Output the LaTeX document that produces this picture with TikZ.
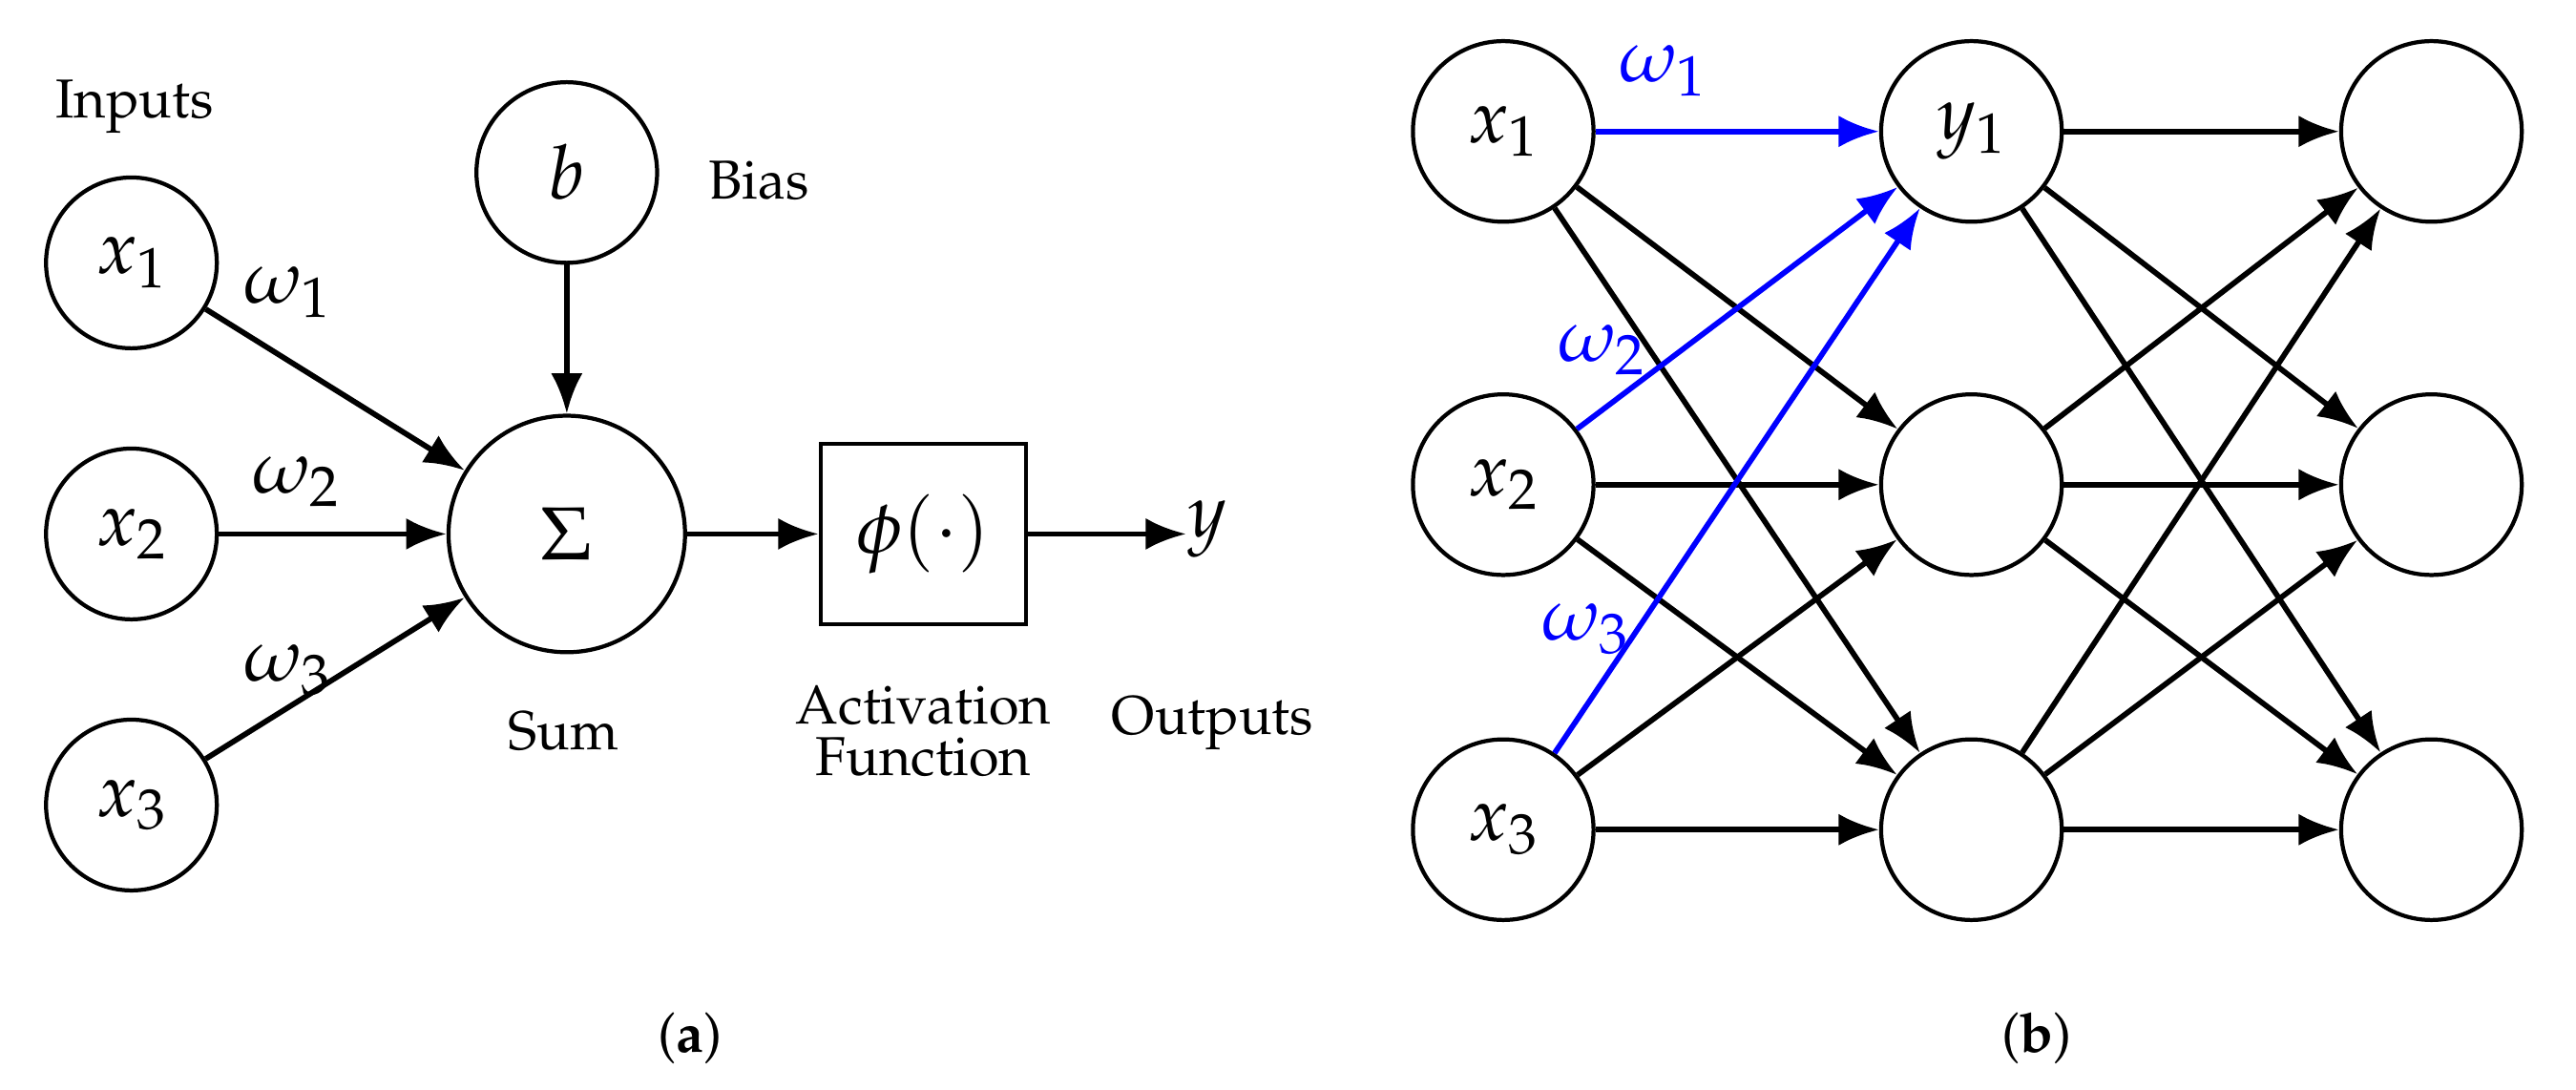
\documentclass[tikz,border=0pt]{standalone}
\usepackage[T1]{fontenc}
\usepackage{mathpazo}
\renewcommand\rmdefault{ppl}
\usetikzlibrary{arrows.meta}
\begin{document}
\begin{tikzpicture}[x=0.02cm,y=-0.02cm,
  neu/.style={circle,draw,line width=1.4pt,minimum size=#1*0.04cm,inner sep=0pt},
  ar/.style={line width=1.9pt,-{Latex[length=14pt,width=11pt]}},
  bl/.style={ar,blue},
  mt/.style={font=\fontsize{26}{30}\selectfont},
  tx/.style={font=\rmfamily\fontsize{19}{22}\selectfont}]
\useasboundingbox (0,0) rectangle (1568,663);
% (a)
\node[neu=52,mt] (x1) at (80,160) {$x_1$};
\node[neu=52,mt] (x2) at (80,325) {$x_2$};
\node[neu=52,mt] (x3) at (80,490) {$x_3$};
\node[neu=55,mt] (b) at (345,105) {$b$};
\node[neu=72,mt] (s) at (345,325) {$\Sigma$};
\node[draw,line width=1.4pt,minimum width=125*0.02cm,minimum height=110*0.02cm,mt] (phi) at (562,325) {$\phi(\cdot)$};
\node[mt] (y) at (735,322) {$y$};
\coordinate (ye) at (722,325);
\draw[ar] (x1) -- (s);
\draw[ar] (x2) -- (s);
\draw[ar] (x3) -- (s);
\draw[ar] (b) -- (s);
\draw[ar] (s) -- (phi);
\draw[ar] (phi) -- (ye);
\node[mt] (w1) at (175,178) {$\omega_1$};
\node[mt] (w2) at (180,293) {$\omega_2$};
\node[mt] (w3) at (175,408) {$\omega_3$};
\node[tx] (inp) at (82,65) {Inputs};
\node[tx] (bias) at (462,110) {Bias};
\node[tx] (sum) at (343,445) {Sum};
\node[tx,align=center] (act) at (562,445) {Activation\\[-4pt]Function};
\node[tx] (out) at (738,440) {Outputs};
\node[tx] (la) at (420,632) {(\textbf{a})};
% (b)
\node[neu=55,mt] (i1) at (915,80) {$x_1$};
\node[neu=55,mt] (i2) at (915,295) {$x_2$};
\node[neu=55,mt] (i3) at (915,505) {$x_3$};
\node[neu=55,mt] (h1) at (1200,80) {$y_1$};
\node[neu=55] (h2) at (1200,295) {};
\node[neu=55] (h3) at (1200,505) {};
\node[neu=55] (o1) at (1480,80) {};
\node[neu=55] (o2) at (1480,295) {};
\node[neu=55] (o3) at (1480,505) {};
\foreach \i in {1,2,3}{\foreach \j in {2,3}{\draw[ar] (i\i) -- (h\j);}}
\foreach \i in {1,2,3}{\foreach \j in {1,2,3}{\draw[ar] (h\i) -- (o\j);}}
\draw[bl] (i1) -- (h1);
\draw[bl] (i2) -- (h1);
\draw[bl] (i3) -- (h1);
\node[mt,text=blue] (v1) at (1012,43) {$\omega_1$};
\node[mt,text=blue] (v2) at (975,213) {$\omega_2$};
\node[mt,text=blue] (v3) at (965,383) {$\omega_3$};
\node[tx] (lb) at (1240,632) {(\textbf{b})};
\end{tikzpicture}
\end{document}
